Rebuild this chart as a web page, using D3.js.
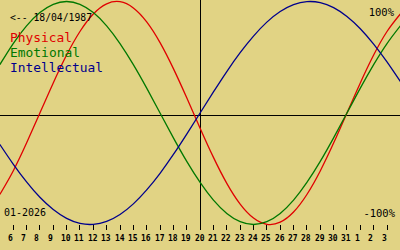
<!DOCTYPE html>
<html>
<head>
<meta charset="utf-8">
<script src="https://cdn.jsdelivr.net/npm/d3@7"></script>
<style>
  html, body { margin: 0; padding: 0; background: #e1d384; }
  svg { display: block; }
  text { font-family: "DejaVu Sans Mono", "Liberation Mono", monospace; }
</style>
</head>
<body>
<div id="chart"></div>
<script>
// days of the shown window (Jan 2026, continuing into Feb as 32.. = 1..)
const days = [5, 6, 7, 8, 9, 10, 11, 12, 13, 14, 15, 16, 17, 18, 19, 20,
  21, 22, 23, 24, 25, 26, 27, 28, 29, 30, 31, 32, 33, 34, 35];

const physical = [-0.731, -0.520, -0.270, 0.000, 0.270, 0.520, 0.731, 0.888, 0.979, 0.998,
  0.942, 0.817, 0.631, 0.398, 0.136, -0.136, -0.398, -0.631, -0.817, -0.942,
  -0.998, -0.979, -0.888, -0.731, -0.520, -0.270, 0.000, 0.270, 0.520, 0.731, 0.888];

const emotional = [0.434, 0.623, 0.782, 0.901, 0.975, 1.000, 0.975, 0.901, 0.782, 0.623,
  0.434, 0.223, 0.000, -0.223, -0.434, -0.623, -0.782, -0.901, -0.975, -1.000,
  -0.975, -0.901, -0.782, -0.623, -0.434, -0.223, 0.000, 0.223, 0.434, 0.623, 0.782];

const intellectual = [-0.282, -0.458, -0.618, -0.756, -0.866, -0.945, -0.990, -0.999, -0.972, -0.910,
  -0.815, -0.690, -0.541, -0.372, -0.189, 0.000, 0.189, 0.372, 0.541, 0.690,
  0.815, 0.910, 0.972, 0.999, 0.990, 0.945, 0.866, 0.756, 0.618, 0.458, 0.282];

const tickDays = d3.range(6, 35);
const tickLabels = ["6", "7", "8", "9", "10", "11", "12", "13", "14", "15", "16", "17", "18", "19",
  "20", "21", "22", "23", "24", "25", "26", "27", "28", "29", "30", "31", "1", "2", "3"];

const seriesNames = ["Physical", "Emotional", "Intellectual"];
const seriesColors = ["#e00000", "#007800", "#00008c"];
const today = 20;
const birthLabel = "<-- 18/04/1987";
const monthLabel = "01-2026";

const width = 400, height = 250;

const svg = d3.select("#chart").append("svg")
  .attr("width", width)
  .attr("height", height);

svg.append("rect").attr("width", width).attr("height", height).attr("fill", "#e1d384");

const x = d3.scaleLinear().domain([6, 34]).range([13.2, 387]);
const y = d3.scaleLinear().domain([-1, 1]).range([224.5, 1.5]);

const px = v => Math.floor(v) + 0.5;

// zero line and today line
svg.append("line")
  .attr("x1", 0).attr("x2", width)
  .attr("y1", 115.5).attr("y2", 115.5)
  .attr("stroke", "#000").attr("shape-rendering", "crispEdges");

svg.append("line")
  .attr("x1", px(x(today))).attr("x2", px(x(today)))
  .attr("y1", 0).attr("y2", 230)
  .attr("stroke", "#000").attr("shape-rendering", "crispEdges");

// day ticks
const ticks = svg.append("g");
ticks.selectAll("line")
  .data(tickDays)
  .join("line")
    .attr("x1", d => px(x(d))).attr("x2", d => px(x(d)))
    .attr("y1", 225).attr("y2", 230)
    .attr("stroke", "#000").attr("shape-rendering", "crispEdges");

ticks.selectAll("text")
  .data(tickDays)
  .join("text")
    .attr("x", d => Math.floor(x(d)) - 5)
    .attr("y", 241)
    .attr("font-size", 8)
    .attr("font-weight", "bold")
    .attr("fill", "#000")
    .text((d, i) => tickLabels[i]);

// curves
const line = d3.line()
  .x((d, i) => x(days[i]))
  .y(d => y(d))
  .curve(d3.curveNatural);

[physical, emotional, intellectual].forEach((vals, k) => {
  svg.append("path")
    .attr("d", line(vals))
    .attr("fill", "none")
    .attr("stroke", seriesColors[k])
    .attr("stroke-width", 1.3);
});

// texts
svg.append("text")
  .attr("x", 10).attr("y", 21)
  .attr("font-size", 10.5)
  .attr("textLength", 82).attr("lengthAdjust", "spacingAndGlyphs")
  .attr("fill", "#000")
  .text(birthLabel);

const legendWidths = [62, 70, 93];
svg.append("g").selectAll("text")
  .data(seriesNames)
  .join("text")
    .attr("x", 10)
    .attr("y", (d, i) => 41.5 + i * 15)
    .attr("font-size", 12)
    .attr("textLength", (d, i) => legendWidths[i])
    .attr("lengthAdjust", "spacingAndGlyphs")
    .attr("fill", (d, i) => seriesColors[i])
    .text(d => d);

svg.append("text")
  .attr("x", 4).attr("y", 216)
  .attr("font-size", 10.5)
  .attr("textLength", 42).attr("lengthAdjust", "spacingAndGlyphs")
  .attr("fill", "#000")
  .text(monthLabel);

svg.append("text")
  .attr("x", 394).attr("y", 16)
  .attr("text-anchor", "end")
  .attr("font-size", 10.5)
  .attr("fill", "#000")
  .text("100%");

svg.append("text")
  .attr("x", 395).attr("y", 216.5)
  .attr("text-anchor", "end")
  .attr("font-size", 10.5)
  .attr("fill", "#000")
  .text("-100%");
</script>
</body>
</html>
